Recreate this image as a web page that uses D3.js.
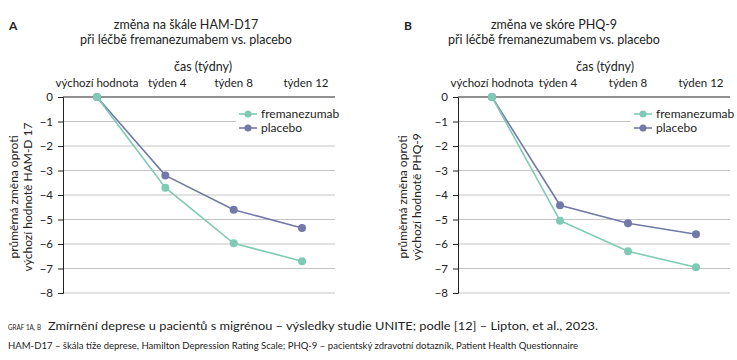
<!DOCTYPE html>
<html><head><meta charset="utf-8">
<script src="https://cdn.jsdelivr.net/npm/d3@7"></script>
<style>
body{margin:0;background:#fff;}
text{font-family:Lato,"Open Sans",sans-serif;fill:#222;}
</style></head><body>
<svg id="c" width="737" height="360"></svg>
<script>
const categories = ["výchozí hodnota","týden 4","týden 8","týden 12"];
const seriesNames = ["fremanezumab","placebo"];
const hamFreman = [0,-3.7,-5.97,-6.7];
const hamPlacebo = [0,-3.2,-4.6,-5.35];
const phqFreman = [0,-5.05,-6.3,-6.95];
const phqPlacebo = [0,-4.42,-5.15,-5.6];
const yTicks = [0,-1,-2,-3,-4,-5,-6,-7,-8];
const colors = {"fremanezumab":"#7fcab4","placebo":"#7279a9"};

const svg = d3.select("#c");

function panel(o){
  const g = svg.append("g");
  const y = d3.scaleLinear().domain([0,-8]).range([97,293]);
  const x = d3.scalePoint().domain(categories).range([o.x0,o.x3]);
  g.append("text").attr("x",o.letterX).attr("y",30).attr("font-weight","bold").attr("font-size",12).text(o.letter);
  o.title.forEach((t,i)=>g.append("text").attr("x",o.titleX).attr("y",29+i*15).attr("text-anchor","middle").attr("font-size",12.5).text(t));
  g.append("text").attr("x",o.casX).attr("y",71).attr("text-anchor","middle").attr("font-size",12.5).text("čas (týdny)");
  categories.forEach((c,i)=>g.append("text").attr("x",x(c)+o.labOff[i]).attr("y",87).attr("text-anchor","middle").attr("font-size",11.5).text(c));
  g.selectAll(".grid").data(yTicks.filter(d=>d!==0)).join("line")
    .attr("x1",o.axisX).attr("x2",o.gridEnd).attr("y1",d=>y(d)).attr("y2",d=>y(d))
    .attr("stroke","#c4c4c4").attr("stroke-width",1);
  const ax = g.append("g").attr("transform",`translate(${o.axisX},0)`)
    .call(d3.axisLeft(y).tickValues(yTicks).tickSize(5).tickPadding(5).tickFormat(d=>d===0?"0":"\u2212"+Math.abs(d)));
  ax.select(".domain").attr("stroke","#222");
  ax.selectAll(".tick line").attr("stroke","#222");
  ax.selectAll("text").attr("font-size",11.5).attr("font-family","Lato,'Open Sans',sans-serif").attr("fill","#333");
  g.append("line").attr("x1",o.axisX).attr("x2",o.gridEnd).attr("y1",y(0)).attr("y2",y(0)).attr("stroke","#222").attr("stroke-width",1.2);
  const yt = g.append("text").attr("transform",`translate(${o.ytX},197) rotate(-90)`).attr("text-anchor","middle").attr("font-size",12);
  yt.append("tspan").attr("x",0).attr("dy",0).text("průměrná změna oproti");
  yt.append("tspan").attr("x",0).attr("dy",14).text(o.ytitle2);
  g.append("rect").attr("x",o.legX-12).attr("y",105).attr("width",110).attr("height",30).attr("fill","#fff");
  const line = d3.line().x((d,i)=>x(categories[i])).y(d=>y(d));
  [[o.pl,"placebo"],[o.fr,"fremanezumab"]].forEach(([vals,name])=>{
    g.append("path").datum(vals).attr("d",line).attr("fill","none").attr("stroke",colors[name]).attr("stroke-width",1.6);
    g.selectAll(null).data(vals).join("circle").attr("cx",(d,i)=>x(categories[i])).attr("cy",d=>y(d)).attr("r",4).attr("fill",colors[name]);
  });
  seriesNames.forEach((n,i)=>{
    const ly = 114+i*14;
    g.append("line").attr("x1",o.legX-9).attr("x2",o.legX+9).attr("y1",ly).attr("y2",ly).attr("stroke",colors[n]).attr("stroke-width",1.6);
    g.append("circle").attr("cx",o.legX).attr("cy",ly).attr("r",3.5).attr("fill",colors[n]);
    g.append("text").attr("x",o.legX+13).attr("y",ly+4).attr("font-size",12).text(n);
  });
}

panel({letter:"A",letterX:9,title:["změna na škále HAM-D17","při léčbě fremanezumabem vs. placebo"],titleX:186,casX:203,
  x0:97,x3:302,labOff:[0,2,0,4],axisX:63,gridEnd:335,ytX:18,ytitle2:"výchozí hodnotě HAM-D 17",legX:248,fr:hamFreman,pl:hamPlacebo});
panel({letter:"B",letterX:404,title:["změna ve skóre PHQ-9","při léčbě fremanezumabem vs. placebo"],titleX:554,casX:605,
  x0:492,x3:696,labOff:[0,-2,0,5],axisX:458,gridEnd:730,ytX:407,ytitle2:"výchozí hodnotě PHQ-9",legX:643,fr:phqFreman,pl:phqPlacebo});

svg.append("text").attr("x",8).attr("y",330).attr("font-size",8).attr("fill","#8a8a8a").attr("textLength",33).attr("lengthAdjust","spacingAndGlyphs").text("GRAF 1A, B");
svg.append("text").attr("x",48).attr("y",330).attr("font-size",12).attr("textLength",550).attr("lengthAdjust","spacingAndGlyphs")
  .text("Zmírnění deprese u pacientů s migrénou – výsledky studie UNITE; podle [12] – Lipton, et al., 2023.");
svg.append("text").attr("x",8).attr("y",349).attr("font-size",10).attr("textLength",570).attr("lengthAdjust","spacingAndGlyphs")
  .text("HAM-D17 – škála tíže deprese, Hamilton Depression Rating Scale; PHQ-9 – pacientský zdravotní dotazník, Patient Health Questionnaire");
</script></body></html>
